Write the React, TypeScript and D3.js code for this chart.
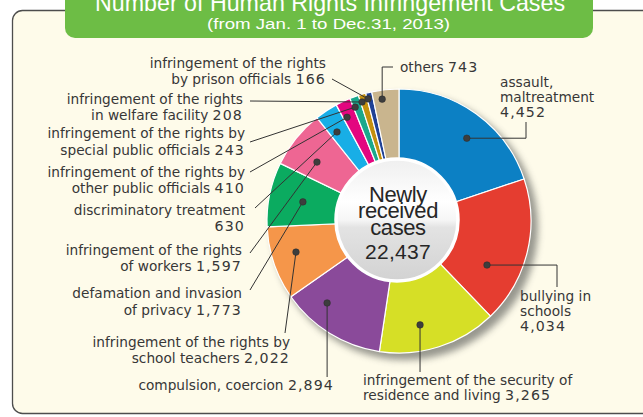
import React from "react";
import * as d3 from "d3";

const categories = [
  "assault, maltreatment",
  "bullying in schools",
  "infringement of the security of residence and living",
  "compulsion, coercion",
  "infringement of the rights by school teachers",
  "defamation and invasion of privacy",
  "infringement of the rights of workers",
  "discriminatory treatment",
  "infringement of the rights by other public officials",
  "infringement of the rights by special public officials",
  "infringement of the rights in welfare facility",
  "infringement of the rights by prison officials",
  "others",
];
const values = [4452, 4034, 3265, 2894, 2022, 1773, 1597, 630, 410, 243, 208, 166, 743];
const colors = [
  "#0c80c4", "#e53d30", "#d6df26", "#8a4a9a", "#f5964a", "#0bab60", "#ee6693",
  "#18aee6", "#e3067f", "#1aa88c", "#c4900e", "#1f4195", "#c9b58e",
];
const labelLines = [
  ["assault,", "maltreatment", "#"],
  ["bullying in", "schools", "#"],
  ["infringement of the security of", "residence and living #"],
  ["compulsion, coercion #"],
  ["infringement of the rights by", "school teachers #"],
  ["defamation and invasion", "of privacy #"],
  ["infringement of the rights", "of workers #"],
  ["discriminatory treatment", "#"],
  ["infringement of the rights by", "other public officials #"],
  ["infringement of the rights by", "special public officials #"],
  ["infringement of the rights", "in welfare facility #"],
  ["infringement of the rights", "by prison officials #"],
  ["others #"],
];
const titleText = "Number of Human Rights Infringement Cases";
const subtitleText = "(from Jan. 1 to Dec.31, 2013)";
const centerLines = ["Newly", "received", "cases"];

type Route =
  | { kind: "hv"; x: number; y: number }
  | { kind: "v"; y: number }
  | { kind: "line"; x: number; y: number }
  | { kind: "vh"; x: number; y: number };

const layout: { anchor: "start" | "end"; x: number; y: number; lh: number; route: Route; shift: number; r: number }[] = [
  { anchor: "start", x: 500, y: 87, lh: 15, route: { kind: "hv", x: 526, y: 122 }, shift: 3.6, r: 107 },
  { anchor: "start", x: 520, y: 301, lh: 15, route: { kind: "hv", x: 557, y: 287 }, shift: 12.8, r: 98.4 },
  { anchor: "start", x: 363, y: 385, lh: 15, route: { kind: "v", y: 372 }, shift: 6.2, r: 106 },
  { anchor: "end", x: 334, y: 390, lh: 15, route: { kind: "v", y: 377 }, shift: 9.5, r: 109 },
  { anchor: "end", x: 290, y: 347, lh: 16, route: { kind: "line", x: 285, y: 333 }, shift: 2, r: 107.6 },
  { anchor: "end", x: 242, y: 298, lh: 17, route: { kind: "line", x: 250, y: 290 }, shift: -0.4, r: 98 },
  { anchor: "end", x: 242, y: 255, lh: 16, route: { kind: "line", x: 250, y: 253 }, shift: -3, r: 101 },
  { anchor: "end", x: 245, y: 215, lh: 15.5, route: { kind: "line", x: 255, y: 208 }, shift: -1.4, r: 108.5 },
  { anchor: "end", x: 245, y: 177, lh: 16, route: { kind: "line", x: 250, y: 172 }, shift: -1.5, r: 116 },
  { anchor: "end", x: 245, y: 138, lh: 17, route: { kind: "line", x: 250, y: 142 }, shift: -1.2, r: 122 },
  { anchor: "end", x: 243, y: 104, lh: 16, route: { kind: "line", x: 250, y: 101 }, shift: -1, r: 124.6 },
  { anchor: "end", x: 326, y: 68, lh: 16, route: { kind: "line", x: 332, y: 79 }, shift: -1, r: 126 },
  { anchor: "start", x: 400, y: 72, lh: 15, route: { kind: "vh", x: 393, y: 67 }, shift: -1.9, r: 123 },
];

const W = 643;
const H = 417;
const cx = 399;
const cy = 221;
const R = 132;
const fmt = d3.format(",");
const total = d3.sum(values);

export default function App() {
  const pie = d3.pie<number>().sort(null).value((d) => d)(values);
  const arc = d3.arc<d3.PieArcDatum<number>>().innerRadius(0).outerRadius(R);

  const polar = (angDeg: number, r: number): [number, number] => {
    const a = (angDeg * Math.PI) / 180;
    return [cx + r * Math.sin(a), cy - r * Math.cos(a)];
  };

  const labelFont = "'DejaVu Sans', sans-serif";
  const textColor = "#373737";

  const renderLine = (s: string, v: number) => {
    if (!s.includes("#")) return s;
    const [pre] = s.split("#");
    return (
      <>
        {pre}
        <tspan style={{ letterSpacing: "1.1px" }} fontSize={14.2}>{fmt(v)}</tspan>
      </>
    );
  };

  return (
    <div style={{ position: "absolute", left: 0, top: 0, width: W, height: H }}>
      <svg width={W} height={H} style={{ display: "block" }}>
        <defs>
          <filter id="blur" x="-20%" y="-20%" width="140%" height="140%">
            <feGaussianBlur stdDeviation="3.5" />
          </filter>
          <linearGradient id="centerGrad" x1="0" y1="0" x2="0" y2="1">
            <stop offset="0" stopColor="#efefef" />
            <stop offset="0.35" stopColor="#ffffff" />
            <stop offset="0.5" stopColor="#f6f6f6" />
            <stop offset="0.56" stopColor="#e3e3e3" />
            <stop offset="1" stopColor="#d2d2d2" />
          </linearGradient>
          <clipPath id="pageClip">
            <rect x={0} y={0} width={W} height={H} />
          </clipPath>
        </defs>
        <rect x={0} y={0} width={W} height={H} fill="#ffffff" />
        <g clipPath="url(#pageClip)">
          <rect x={12.5} y={10.5} width={650} height={403} rx={10} fill="#fefbea" stroke="#4d4d4d" strokeWidth={1.3} />
          <rect x={65} y={-14} width={528} height={52} rx={10} fill="#6dbd45" />
          <text
            x={330}
            y={11}
            textAnchor="middle"
            fill="#ffffff"
            fontFamily="'Liberation Sans', Arial, sans-serif"
            fontSize={24}
            textLength={470}
            lengthAdjust="spacingAndGlyphs"
          >
            {titleText}
          </text>
          <text
            x={328.5}
            y={29}
            textAnchor="middle"
            fill="#ffffff"
            fontFamily="'Liberation Sans', Arial, sans-serif"
            fontSize={15.5}
            textLength={243}
            lengthAdjust="spacingAndGlyphs"
          >
            {subtitleText}
          </text>
        </g>

        {/* pie shadow */}
        <circle cx={cx + 6} cy={cy + 6} r={R + 1} fill="#8c8c84" filter="url(#blur)" opacity={0.9} />

        <g transform={`translate(${cx},${cy})`}>
          {pie.map((p, i) => (
            <path key={categories[i]} d={arc(p) || ""} fill={colors[i]} stroke="#ffffff" strokeWidth={1.2} strokeLinejoin="round" />
          ))}
        </g>

        {/* center */}
        <circle cx={397} cy={220} r={61} fill="url(#centerGrad)" stroke="#ffffff" strokeWidth={3.5} />
        <g fontFamily="'Liberation Sans', Arial, sans-serif" fill="#262626" textAnchor="middle">
          {centerLines.map((s, j) => (
            <text key={s} x={398} y={[202, 217.5, 235][j]} fontSize={22} style={{ letterSpacing: "-0.4px" }}>
              {s}
            </text>
          ))}
          <text x={398} y={259} fontSize={21} style={{ letterSpacing: "0.3px" }}>
            {fmt(total)}
          </text>
        </g>

        {/* leaders */}
        {pie.map((p, i) => {
          const L = layout[i];
          const mid = ((p.startAngle + p.endAngle) / 2) * (180 / Math.PI) + L.shift;
          const [dx, dy] = polar(mid, L.r);
          const rt = L.route;
          let pts: [number, number][] = [];
          if (rt.kind === "hv") pts = [[dx, dy], [rt.x, dy], [rt.x, rt.y]];
          else if (rt.kind === "v") pts = [[dx, dy], [dx, rt.y]];
          else if (rt.kind === "line") pts = [[dx, dy], [rt.x, rt.y]];
          else pts = [[dx, dy], [dx, rt.y], [rt.x, rt.y]];
          const line = d3.line()(pts) || "";
          return (
            <g key={"l" + i}>
              <path d={line} fill="none" stroke="#333333" strokeWidth={1} />
              <circle cx={dx} cy={dy} r={3.3} fill="#3d3d3d" stroke="#2a2a2a" strokeWidth={0.5} />
            </g>
          );
        })}

        {/* labels */}
        <g fontFamily={labelFont} fontSize={13.7} fill={textColor}>
          {labelLines.map((lines, i) => {
            const L = layout[i];
            return (
              <text key={"t" + i} textAnchor={L.anchor}>
                {lines.map((s, j) => (
                  <tspan key={j} x={L.x} y={L.y + j * L.lh}>
                    {renderLine(s, values[i])}
                  </tspan>
                ))}
              </text>
            );
          })}
        </g>
      </svg>
    </div>
  );
}
